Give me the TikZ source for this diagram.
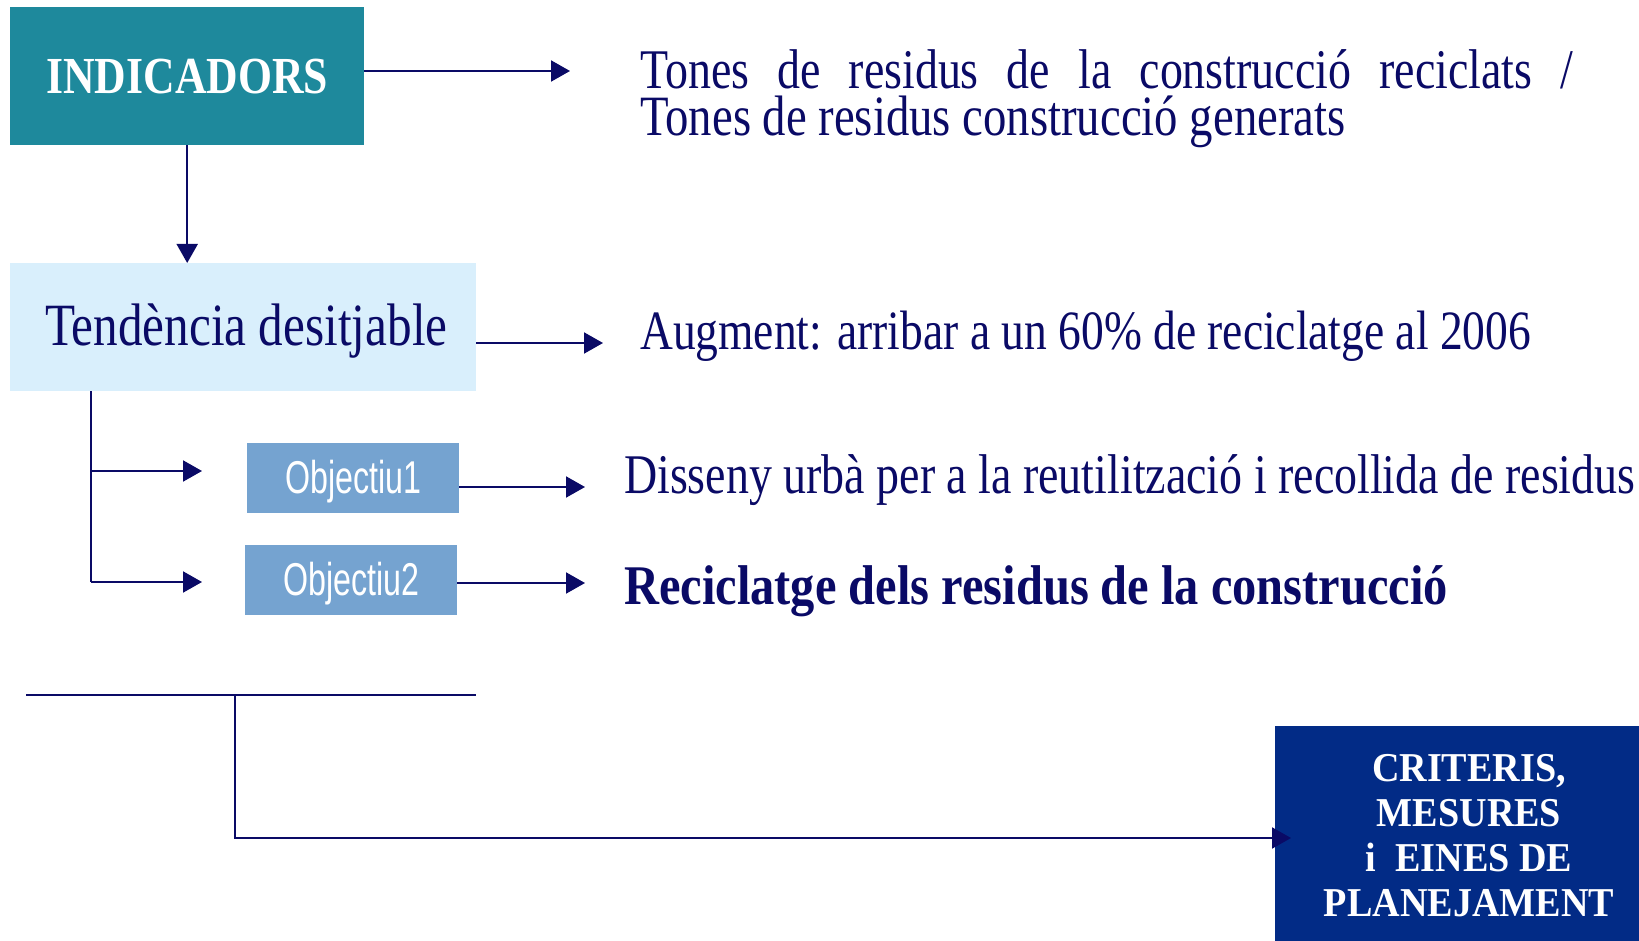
\documentclass[tikz,border=0pt]{standalone}
\usepackage{fontspec}
\setmainfont{Liberation Serif}
\newfontfamily\cserif[FakeStretch=0.82]{Liberation Serif}
\newfontfamily\cserifb[FakeStretch=0.84]{Liberation Serif}
\newfontfamily\cserifr[FakeStretch=0.865]{Liberation Serif}
\newfontfamily\cserifw[FakeStretch=0.93]{Liberation Serif}
\newfontfamily\csans[FakeStretch=0.7]{Liberation Sans}
\usetikzlibrary{arrows.meta}
\definecolor{teal1}{HTML}{1E899C}
\definecolor{lblue}{HTML}{D9EFFC}
\definecolor{mblue}{HTML}{75A3D0}
\definecolor{dblue}{HTML}{022B86}
\definecolor{navy}{HTML}{0A0A66}
\tikzset{
  box/.style={rectangle, inner sep=0pt, anchor=north west},
  conn/.style={draw=navy, line width=2pt},
  arr/.style={conn, -{Triangle[length=19pt,width=21pt]}},
  txt/.style={anchor=base west, inner sep=0pt, text=navy},
  objtxt/.style={text=white, font=\csans\fontsize{46}{46}\selectfont},
}
\begin{document}
\begin{tikzpicture}[x=1pt,y=-1pt]
\useasboundingbox (0,0) rectangle (1639,941);
% boxes
\node[box, fill=teal1, minimum width=354pt, minimum height=138pt] (ind) at (10,7) {};
\node[text=white, font=\cserifb\bfseries\fontsize{52}{52}\selectfont] at (ind.center) {INDICADORS};
\node[box, fill=lblue, minimum width=466pt, minimum height=128pt] (ten) at (10,263) {};
\node[txt, font=\cserif\fontsize{60}{60}\selectfont] (tentxt) at (45,345) {Tendència desitjable};
\node[box, fill=mblue, minimum width=212pt, minimum height=70pt] (o1) at (247,443) {};
\node[objtxt] at ([yshift=-3pt]o1.center) {Objectiu1};
\node[box, fill=mblue, minimum width=212pt, minimum height=70pt] (o2) at (245,545) {};
\node[objtxt] at ([yshift=-3pt]o2.center) {Objectiu2};
\node[box, fill=dblue, minimum width=364pt, minimum height=215pt] (crit) at (1275,726) {};
\node[text=white, align=center, font=\cserifw\bfseries\fontsize{41}{45}\selectfont] at (1469,836)
  {CRITERIS,\\MESURES\\i\ \ EINES DE\\PLANEJAMENT};
% texts
\node[txt, font=\cserif\fontsize{56}{47}\selectfont] (t1) at (640,89)
  {\parbox[t]{933pt}{\fontsize{56}{47}\selectfont\makebox[933pt][s]{Tones de residus de la construcció reciclats /}\\
   \fontsize{57}{47}\selectfont Tones de residus construcció generats}};
\node[txt, font=\cserif\fontsize{55.5}{47}\selectfont] (t3) at (640,350)
  {Augment: arribar a un 60\% de reciclatge al 2006};
\node[txt, font=\cserif\fontsize{56}{47}\selectfont] (t4) at (624,493)
  {Disseny urbà per a la reutilització i recollida de residus};
\node[txt, font=\cserifr\bfseries\fontsize{56}{47}\selectfont] (t5) at (624,604)
  {Reciclatge dels residus de la construcció};
% coordinates
\coordinate (a1) at (570,71);
\coordinate (a2) at (603,343);
\coordinate (a3) at (585,487);
\coordinate (a4) at (585,583);
\coordinate (b1) at (202,471);
\coordinate (b2) at (202,582);
\coordinate (bt) at (91,391);
\coordinate (h1) at (26,695);
\coordinate (h2) at (476,695);
\coordinate (hv) at (235,695);
\coordinate (cr) at (1291,838);
% connectors
\draw[arr] (ind.east |- a1) -- (a1);
\draw[arr] (ind.south) -- (ind.south |- ten.north);
\draw[arr] (ten.east |- a2) -- (a2);
\draw[conn] (bt) -- (bt |- b2);
\draw[arr] (bt |- b1) -- (b1);
\draw[arr] (bt |- b2) -- (b2);
\draw[arr] (o1.east |- a3) -- (a3);
\draw[arr] (o2.east |- a4) -- (a4);
\draw[conn] (h1) -- (h2);
\draw[arr] (hv) |- (cr);
\end{tikzpicture}
\end{document}
